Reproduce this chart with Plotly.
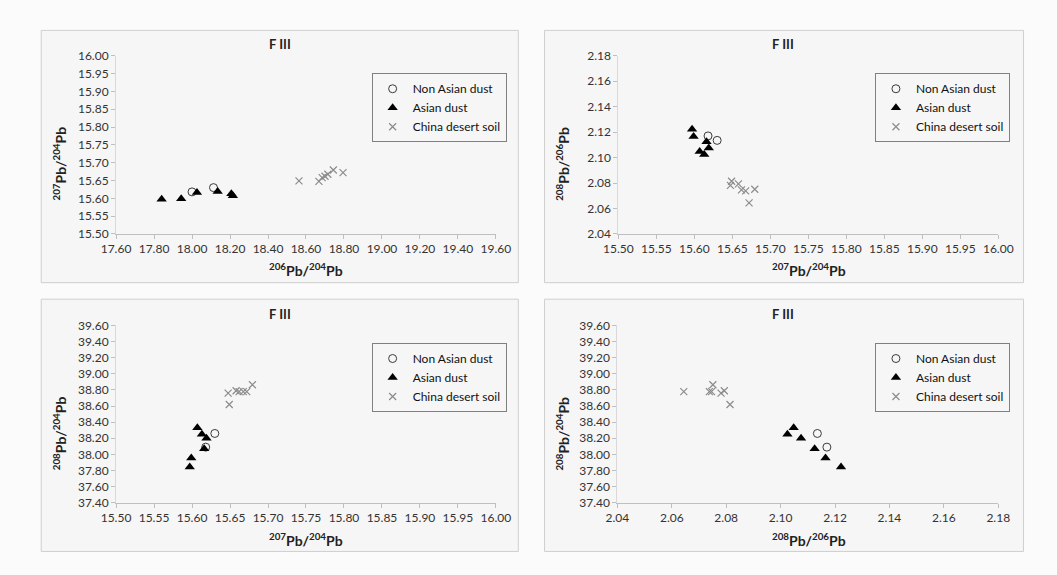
import plotly.graph_objects as go

# Lead isotope ratios of PM samples (F III) and China desert soil
groups = ["Non Asian dust", "Asian dust", "China desert soil"]

non_asian_206_204 = [18.00, 18.113]
non_asian_207_204 = [15.618, 15.630]
non_asian_208_204 = [38.09, 38.26]
non_asian_208_206 = [2.117, 2.1135]

asian_206_204 = [17.84, 17.943, 18.026, 18.135, 18.207, 18.215]
asian_207_204 = [15.597, 15.599, 15.616, 15.619, 15.613, 15.607]
asian_208_204 = [37.845, 37.957, 38.07, 38.20, 38.25, 38.33]
asian_208_206 = [2.1222, 2.1165, 2.1125, 2.1075, 2.1025, 2.1048]

soil_206_204 = [18.563, 18.744, 18.795, 18.668, 18.685, 18.70, 18.715]
soil_207_204 = [15.649, 15.6795, 15.672, 15.6475, 15.658, 15.662, 15.6675]
soil_208_204 = [38.62, 38.865, 38.78, 38.76, 38.79, 38.78, 38.78]
soil_208_206 = [2.0814, 2.0751, 2.0644, 2.0781, 2.0793, 2.0746, 2.0738]

panel_title = "F III"

W, H = 1057, 575
FONT = "Lato, 'Open Sans', sans-serif"
TXT = "#333333"


def px(x):
    return x / W


def py(y):
    return 1 - y / H


lab_206_204 = "<b><sup>206</sup>Pb/<sup>204</sup>Pb</b>"
lab_207_204 = "<b><sup>207</sup>Pb/<sup>204</sup>Pb</b>"
lab_208_204 = "<b><sup>208</sup>Pb/<sup>204</sup>Pb</b>"
lab_208_206 = "<b><sup>208</sup>Pb/<sup>206</sup>Pb</b>"

# panel layout: plot area in pixels, axis ranges and tick steps
panels = [
    dict(xd=(104, 495), yd=(49, 232), xr=(17.6, 19.6), xt=0.2, yr=(15.5, 16.0), yt=0.05,
         xkey="206_204", ykey="207_204", xl=lab_206_204, yl=lab_207_204,
         frame=(27, 23, 518, 282), title=(273, 37), xlab=(299, 269), ylab=(46, 160),
         leg=(0, 67)),
    dict(xd=(621, 1012), yd=(49, 232), xr=(15.5, 16.0), xt=0.05, yr=(2.04, 2.18), yt=0.02,
         xkey="207_204", ykey="208_206", xl=lab_207_204, yl=lab_208_206,
         frame=(545, 23, 1038, 282), title=(790, 37), xlab=(817, 269), ylab=(564, 160),
         leg=(0, 67)),
    dict(xd=(104, 495), yd=(326, 508), xr=(15.5, 16.0), xt=0.05, yr=(37.4, 39.6), yt=0.2,
         xkey="207_204", ykey="208_204", xl=lab_207_204, yl=lab_208_204,
         frame=(27, 299, 518, 558), title=(273, 314), xlab=(299, 546), ylab=(46, 437),
         leg=(0, 344)),
    dict(xd=(620, 1012), yd=(326, 508), xr=(2.04, 2.18), xt=0.02, yr=(37.4, 39.6), yt=0.2,
         xkey="208_206", ykey="208_204", xl=lab_208_206, yl=lab_208_204,
         frame=(545, 299, 1038, 558), title=(790, 314), xlab=(817, 546), ylab=(564, 437),
         leg=(0, 344)),
]
legend_right = [506, 1024, 506, 1024]

data = {
    "Non Asian dust": {"206_204": non_asian_206_204, "207_204": non_asian_207_204,
                       "208_204": non_asian_208_204, "208_206": non_asian_208_206},
    "Asian dust": {"206_204": asian_206_204, "207_204": asian_207_204,
                   "208_204": asian_208_204, "208_206": asian_208_206},
    "China desert soil": {"206_204": soil_206_204, "207_204": soil_207_204,
                          "208_204": soil_208_204, "208_206": soil_208_206},
}

styles = {
    "Non Asian dust": dict(symbol="circle-open", size=8, color="#3a3a3a", line=dict(width=1, color="#3a3a3a")),
    "Asian dust": dict(symbol="triangle-up", size=9, color="#000000"),
    "China desert soil": dict(symbol="x-thin-open", size=7, color="#8c8c8c", line=dict(width=1.2, color="#8c8c8c")),
}

fig = go.Figure()
layout = dict(
    width=W, height=H, margin=dict(l=0, r=0, t=0, b=0),
    paper_bgcolor="#fbfbfb", plot_bgcolor="rgba(0,0,0,0)",
    font=dict(family=FONT, size=12, color=TXT),
    shapes=[], annotations=[],
)

for i, p in enumerate(panels):
    n = i + 1
    xa = "xaxis" if n == 1 else f"xaxis{n}"
    ya = "yaxis" if n == 1 else f"yaxis{n}"
    xref = "x" if n == 1 else f"x{n}"
    yref = "y" if n == 1 else f"y{n}"
    leg = "legend" if n == 1 else f"legend{n}"

    for g in groups:
        fig.add_trace(go.Scatter(
            x=data[g][p["xkey"]], y=data[g][p["ykey"]], mode="markers", name=g,
            marker=styles[g], xaxis=xref, yaxis=yref, legend=leg, showlegend=True,
            hoverinfo="x+y+name",
        ))

    layout[xa] = dict(
        domain=[px(p["xd"][0]), px(p["xd"][1])], anchor=yref,
        range=list(p["xr"]), dtick=p["xt"], tick0=p["xr"][0], tickformat=".2f",
        showgrid=False, zeroline=False, showline=True, linecolor="#bfbfbf", linewidth=1,
        ticks="outside", ticklen=4, tickcolor="#bfbfbf",
        tickfont=dict(family=FONT, size=12, color=TXT),
    )
    layout[ya] = dict(
        domain=[py(p["yd"][1]), py(p["yd"][0])], anchor=xref,
        range=list(p["yr"]), dtick=p["yt"], tick0=p["yr"][0], tickformat=".2f",
        showgrid=False, zeroline=False, showline=True, linecolor="#d9d9d9", linewidth=1,
        ticks="outside", ticklen=4, tickcolor="#bfbfbf",
        tickfont=dict(family=FONT, size=12, color=TXT),
    )
    layout[leg] = dict(
        x=px(legend_right[i]), y=py(p["leg"][1]), xanchor="right", yanchor="top",
        bgcolor="#f6f6f6", bordercolor="#808080", borderwidth=1,
        font=dict(family=FONT, size=12, color="#111111"),
        itemwidth=30, tracegroupgap=0, itemsizing="trace",
    )

    fx0, fy0, fx1, fy1 = p["frame"]
    layout["shapes"].append(dict(
        type="rect", xref="paper", yref="paper", layer="below",
        x0=px(fx0), x1=px(fx1), y0=py(fy1), y1=py(fy0),
        fillcolor="#f6f6f6", line=dict(color="#cfcfcf", width=1),
    ))
    layout["annotations"].append(dict(
        text=f"<b>{panel_title}</b>", x=px(p["title"][0]), y=py(p["title"][1]),
        xref="paper", yref="paper", showarrow=False, xanchor="center", yanchor="middle",
        font=dict(family=FONT, size=13, color="#222222"),
    ))
    layout["annotations"].append(dict(
        text=p["xl"], x=px(p["xlab"][0]), y=py(p["xlab"][1]),
        xref="paper", yref="paper", showarrow=False, xanchor="center", yanchor="middle",
        font=dict(family=FONT, size=14, color="#222222"),
    ))
    layout["annotations"].append(dict(
        text=p["yl"], x=px(p["ylab"][0]), y=py(p["ylab"][1]), textangle=-90,
        xref="paper", yref="paper", showarrow=False, xanchor="center", yanchor="middle",
        font=dict(family=FONT, size=14, color="#222222"),
    ))

fig.update_layout(**layout)
fig.write_html("out.html")
